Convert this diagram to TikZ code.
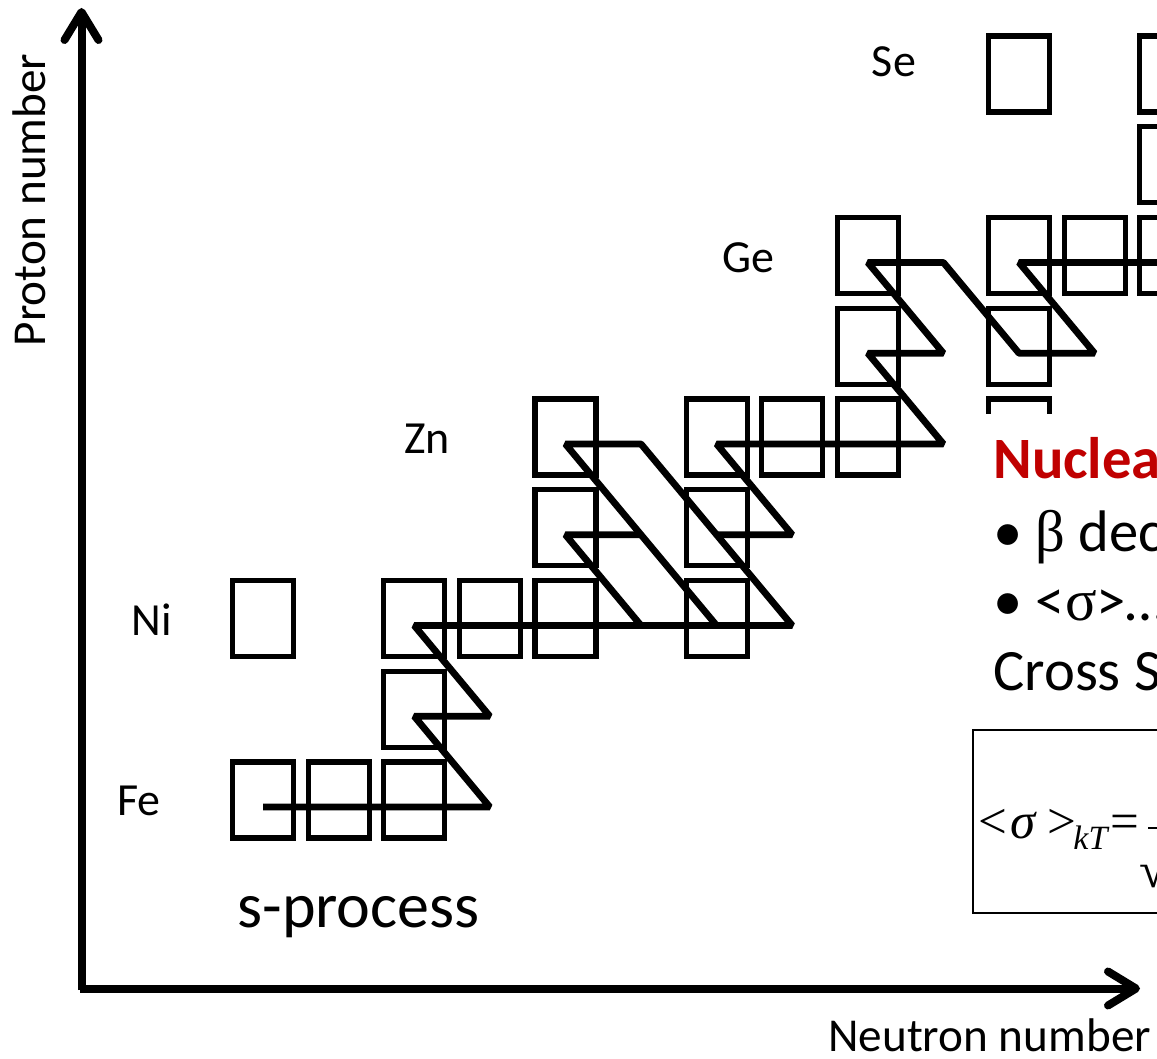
\documentclass[tikz,border=0pt]{standalone}
\usepackage{fontspec}
\setmainfont{Carlito}
\newfontfamily\tm{Liberation Serif}
\usetikzlibrary{arrows.meta}
\definecolor{titlered}{HTML}{C00000}
\begin{document}
\begin{tikzpicture}[x=0.5pt,y=-0.5pt,
  nuc/.style={draw, line width=2.6pt, minimum width=30.5pt, minimum height=38pt, inner sep=0pt, outer sep=0pt},
  proc/.style={line width=3.4pt, line join=bevel},
  axisline/.style={line width=4pt, -{Straight Barb[length=14pt,width=17pt,line cap=round,line join=round]}},
  elem/.style={font=\fontsize{23}{27}\selectfont, inner sep=0pt},
  rtext/.style={font=\fontsize{29.3}{34}\selectfont, anchor=base west, inner sep=0pt},
  fml/.style={font=\tm\fontsize{25.5}{30}\selectfont, anchor=base west, inner sep=0pt}
]
\useasboundingbox (0,0) rectangle (1157,1059);
\clip (0,0) rectangle (1157,1059);

% vertex coordinates of the path
\foreach \cc in {0,...,14}{
  \foreach \rr in {0,...,8}{
    \coordinate (v\cc-\rr) at ({263+75.6*\cc},{807-90.75*\rr});
  }
}

% nuclide boxes
\foreach \cc/\rr in {0/0,1/0,2/0,2/1,0/2,2/2,3/2,4/2,6/2,4/3,6/3,4/4,6/4,7/4,8/4,8/5,10/5,8/6,10/6,11/6,12/6,12/7,10/8,12/8}{
  \node[nuc] (b\cc-\rr) at ({263+75.6*\cc},{800-90.75*\rr}) {};
}
\begin{scope}
  \clip (950,380) rectangle (1120,413);
  \node[nuc] (b10-4) at ({263+75.6*10},{800-90.75*4}) {};
\end{scope}

% s-process path
\draw[proc] (v0-0) -- (v3-0) -- (v2-1) -- (v3-1) -- (v2-2) -- (v7-2) -- (v5-4) -- (v4-4) -- (v6-2);
\draw[proc] (v5-2) -- (v4-3) -- (v5-3);
\draw[proc] (v6-3) -- (v7-3) -- (v6-4) -- (v9-4) -- (v8-5) -- (v9-5) -- (v8-6) -- (v9-6) -- (v10-5) -- (v11-5) -- (v10-6) -- (v14-6);

% axes
\coordinate (ybot) at (81.5,990);
\coordinate (ytop) at (81.5,8);
\coordinate (xleft) at (80,988.5);
\coordinate (xright) at (1140,988.5);
\draw[axisline] (ybot) -- (ytop);
\draw[axisline] (xleft) -- (xright);
\node[font=\fontsize{23.6}{27}\selectfont, rotate=90, anchor=base, inner sep=0pt] (ylab) at (45,200) {Proton number};
\node[font=\fontsize{23.6}{27}\selectfont, anchor=base west, inner sep=0pt] (xlab) at (828,1051) {Neutron number};

% element labels
\node[elem] (lSe) at (894,62) {Se};
\node[elem] (lGe) at (748,258) {Ge};
\node[elem] (lZn) at (427,439) {Zn};
\node[elem] (lNi) at (152,620) {Ni};
\node[elem] (lFe) at (139,801) {Fe};

\node[font=\fontsize{32}{36}\selectfont, anchor=base west, inner sep=0pt] (sproc) at (237,927) {s-process};

% right text block
\node[rtext, text=titlered, font=\bfseries\fontsize{29.3}{34}\selectfont] (t1) at (993,478) {Nuclear};
\node[rtext] (t2) at (993,551) {• {\tm β} decay};
\node[rtext] (t3) at (993,620) {• <{\tm σ}>…};
\node[rtext] (t4) at (993,690) {Cross Section};

% formula box
\draw[line width=1.25pt] (973,730) rectangle (1300,913);
\node[fml] (f1) at (978,838) {<};
\node[fml] (f2) at (1010,838) {\textit{σ}};
\node[fml] (f3) at (1047,838) {>};
\node[fml, font=\tm\itshape\fontsize{17}{20}\selectfont] (f4) at (1073,849) {kT};
\node[fml] (f5) at (1110,838) {=};
\coordinate (fb1) at (1148,828);
\coordinate (fb2) at (1230,828);
\draw[line width=1.2pt] (fb1) -- (fb2);
\node[fml] (f6) at (1139,887) {√\textit{π}};
\end{tikzpicture}
\end{document}
